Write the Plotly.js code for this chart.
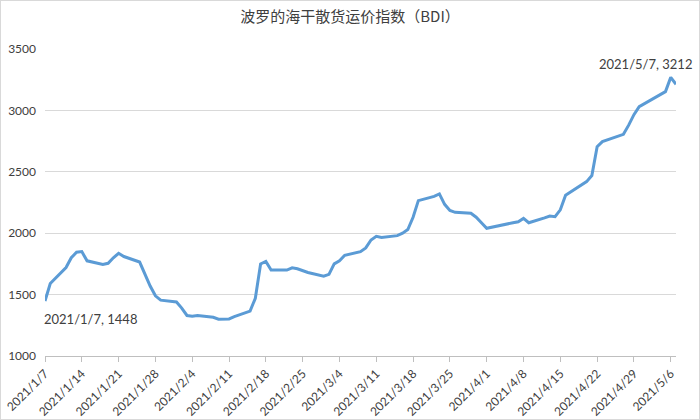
<!DOCTYPE html>
<html>
<head>
<meta charset="utf-8">
<script src="https://cdn.plot.ly/plotly-3.0.1.min.js"></script>
<style>
  html, body { margin: 0; padding: 0; background: #ffffff; }
  #chart { width: 698px; height: 418px; border: 1px solid #d9d9d9; }
</style>
</head>
<body>
<div id="chart"></div>
<script>
const chartTitle = "波罗的海干散货运价指数（BDI）";

const dates = [
  '2021-01-07','2021-01-08','2021-01-11','2021-01-12','2021-01-13','2021-01-14','2021-01-15',
  '2021-01-18','2021-01-19','2021-01-20','2021-01-21','2021-01-22',
  '2021-01-25','2021-01-26','2021-01-27','2021-01-28','2021-01-29',
  '2021-02-01','2021-02-02','2021-02-03','2021-02-04','2021-02-05',
  '2021-02-08','2021-02-09','2021-02-10','2021-02-11','2021-02-12',
  '2021-02-15','2021-02-16','2021-02-17','2021-02-18','2021-02-19',
  '2021-02-22','2021-02-23','2021-02-24','2021-02-25','2021-02-26',
  '2021-03-01','2021-03-02','2021-03-03','2021-03-04','2021-03-05',
  '2021-03-08','2021-03-09','2021-03-10','2021-03-11','2021-03-12',
  '2021-03-15','2021-03-16','2021-03-17','2021-03-18','2021-03-19',
  '2021-03-22','2021-03-23','2021-03-24','2021-03-25','2021-03-26',
  '2021-03-29','2021-03-30','2021-03-31','2021-04-01',
  '2021-04-06','2021-04-07','2021-04-08','2021-04-09',
  '2021-04-12','2021-04-13','2021-04-14','2021-04-15','2021-04-16',
  '2021-04-19','2021-04-20','2021-04-21','2021-04-22','2021-04-23',
  '2021-04-26','2021-04-27','2021-04-28','2021-04-29','2021-04-30',
  '2021-05-04','2021-05-05','2021-05-06','2021-05-07'
];

const bdi = [
  1448, 1590, 1720, 1800, 1845, 1850, 1775,
  1745, 1755, 1800, 1836, 1810,
  1765, 1668, 1570, 1490, 1455,
  1440, 1390, 1330, 1324, 1330,
  1315, 1300, 1298, 1302, 1320,
  1365, 1470, 1750, 1770, 1700,
  1700, 1718, 1710, 1695, 1680,
  1650, 1665, 1750, 1775, 1820,
  1850, 1880, 1945, 1975, 1965,
  1980, 2000, 2030, 2130, 2265,
  2300, 2320, 2235, 2185, 2170,
  2162, 2130, 2085, 2040,
  2085, 2093, 2120, 2085,
  2125, 2140, 2135, 2190, 2310,
  2390, 2420, 2470, 2705, 2746,
  2795, 2805, 2880, 2965, 3030,
  3125, 3153, 3269, 3212
];

const yTicks = [1000, 1500, 2000, 2500, 3000, 3500];
const xTickStart = '2021-01-07';
const xRange = ['2021-01-07', '2021-05-07'];

function label(i) {
  const p = dates[i].split('-');
  return p[0] + '/' + parseInt(p[1], 10) + '/' + parseInt(p[2], 10) + ', ' + bdi[i];
}

const first = 0, last = dates.length - 1;
const txtFont = { family: 'Lato, "Noto Sans CJK SC", sans-serif', size: 13, color: '#404040' };

const trace = {
  x: dates,
  y: bdi,
  type: 'scatter',
  mode: 'lines',
  line: { color: '#5B9BD5', width: 3 },
  hoverinfo: 'skip'
};

const layout = {
  width: 698,
  height: 418,
  margin: { l: 44, r: 23, t: 48, b: 63 },
  paper_bgcolor: '#ffffff',
  plot_bgcolor: '#ffffff',
  showlegend: false,
  title: {
    text: chartTitle,
    x: 0.5,
    xanchor: 'center',
    y: 0.975,
    yanchor: 'top',
    font: { family: '"Noto Sans CJK SC", sans-serif', size: 15, color: '#404040' }
  },
  xaxis: {
    type: 'date',
    range: xRange,
    tick0: xTickStart,
    dtick: 7 * 86400000,
    tickformat: '%Y/%-m/%-d',
    tickangle: -45,
    ticks: 'outside',
    ticklen: 5,
    tickcolor: '#bfbfbf',
    showline: true,
    linecolor: '#bfbfbf',
    linewidth: 1,
    showgrid: false,
    zeroline: false,
    tickfont: { family: 'Lato, sans-serif', size: 12, color: '#404040' }
  },
  yaxis: {
    range: [1000, 3500],
    tickvals: yTicks,
    ticks: '',
    showgrid: true,
    gridcolor: '#d9d9d9',
    gridwidth: 1,
    zeroline: false,
    showline: false,
    ticklabelstandoff: 8,
    tickfont: { family: 'Lato, sans-serif', size: 12, color: '#404040' }
  },
  annotations: [
    {
      x: dates[first], y: bdi[first],
      xref: 'x', yref: 'y',
      text: label(first),
      showarrow: false,
      xanchor: 'left', yanchor: 'top',
      xshift: -3, yshift: -8,
      font: txtFont
    },
    {
      x: dates[last], y: bdi[last],
      xref: 'x', yref: 'y',
      text: label(last),
      showarrow: false,
      xanchor: 'right', yanchor: 'bottom',
      xshift: 18, yshift: 10,
      font: txtFont
    }
  ]
};

Plotly.newPlot('chart', [trace], layout, { displayModeBar: false, staticPlot: true });
</script>
</body>
</html>
